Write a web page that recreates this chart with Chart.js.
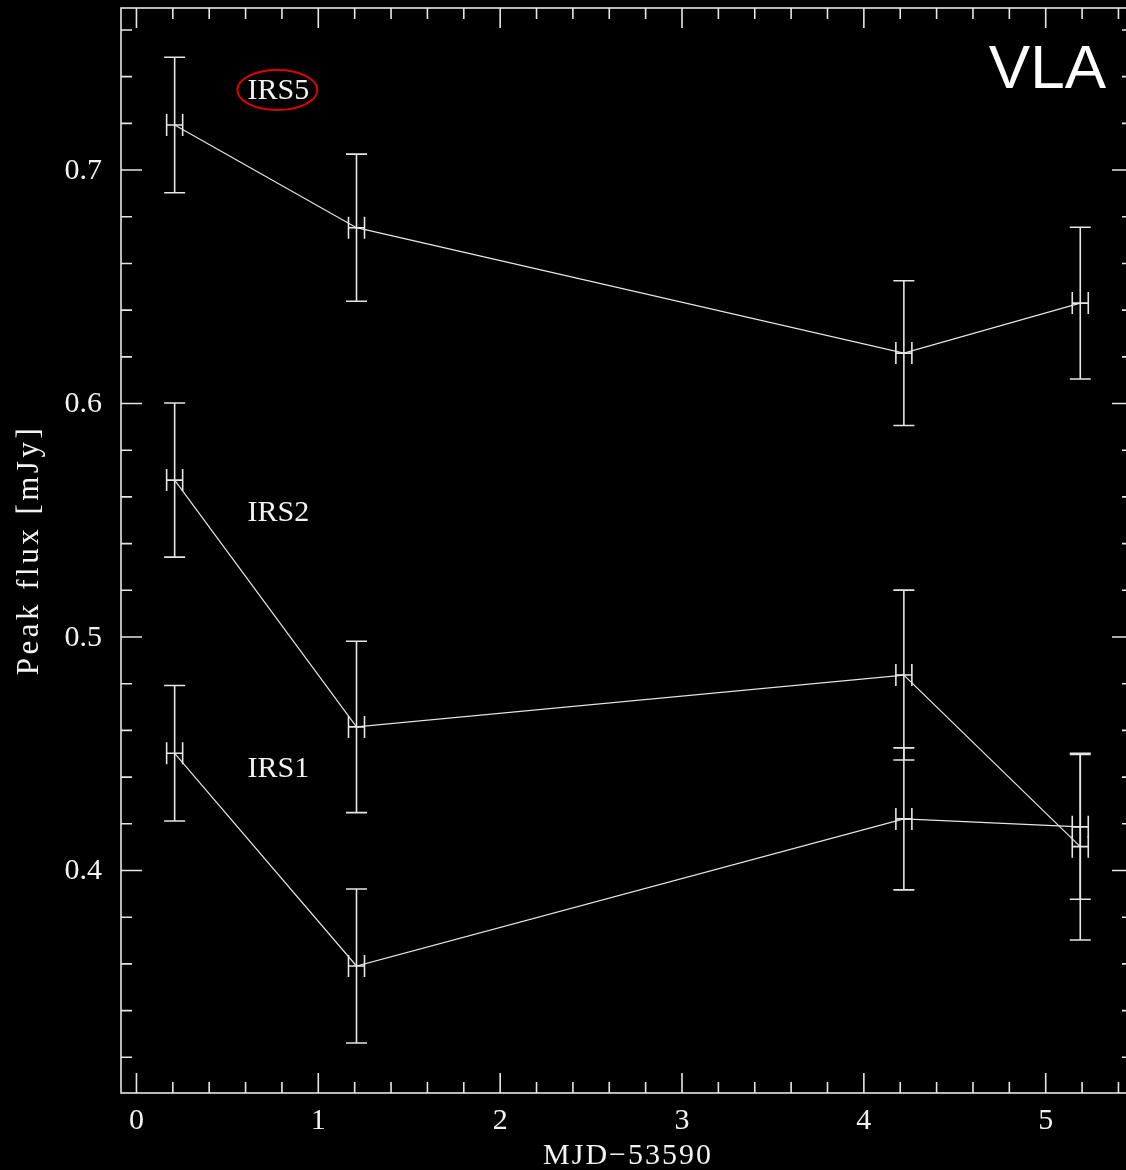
<!DOCTYPE html>
<html>
<head>
<meta charset="utf-8">
<script src="https://cdn.jsdelivr.net/npm/chart.js@4/dist/chart.umd.min.js"></script>
<style>
  html, body { margin: 0; padding: 0; background: #000; overflow: hidden; }
  #wrap { position: relative; width: 1136px; height: 1170px; }
</style>
</head>
<body>
<div id="wrap"><canvas id="c" width="1136" height="1170"></canvas></div>
<script>
// ---- data ----
const mjd    = [0.21, 1.21, 4.22, 5.19];
const mjdErr = [0.044, 0.044, 0.044, 0.044];

const irs5    = [0.7193, 0.6753, 0.6216, 0.6430];
const irs5Err = [0.0290, 0.0315, 0.0310, 0.0325];

const irs2    = [0.5672, 0.4615, 0.4837, 0.4102];
const irs2Err = [0.0330, 0.0367, 0.0364, 0.0400];

const irs1    = [0.4502, 0.3591, 0.4221, 0.4187];
const irs1Err = [0.0290, 0.0330, 0.0304, 0.0310];

const xTickLabels = ['0', '1', '2', '3', '4', '5'];
const yTickLabels = ['0.4', '0.5', '0.6', '0.7'];

const series = [
  { name: 'IRS5', y: irs5, err: irs5Err, lx: 0.78, ly: 0.7343, circled: true },
  { name: 'IRS2', y: irs2, err: irs2Err, lx: 0.78, ly: 0.5535 },
  { name: 'IRS1', y: irs1, err: irs1Err, lx: 0.78, ly: 0.4439 }
];

const FG = '#e6e6e6';
const SERIF = '"Liberation Serif", "DejaVu Serif", serif';

// ---- error bars: vertical + horizontal with caps ----
const errorBars = {
  id: 'errorBars',
  afterDatasetsDraw(chart) {
    const { ctx, scales: { x, y } } = chart;
    ctx.save();
    ctx.strokeStyle = FG;
    ctx.lineWidth = 1.6;
    series.forEach(s => {
      s.y.forEach((v, i) => {
        const px = x.getPixelForValue(mjd[i]);
        const py = y.getPixelForValue(v);
        const yt = y.getPixelForValue(v + s.err[i]);
        const yb = y.getPixelForValue(v - s.err[i]);
        const xl = x.getPixelForValue(mjd[i] - mjdErr[i]);
        const xr = x.getPixelForValue(mjd[i] + mjdErr[i]);
        ctx.beginPath();
        ctx.moveTo(px, yt); ctx.lineTo(px, yb);
        ctx.moveTo(px - 10.5, yt); ctx.lineTo(px + 10.5, yt);
        ctx.moveTo(px - 10.5, yb); ctx.lineTo(px + 10.5, yb);
        ctx.moveTo(xl, py); ctx.lineTo(xr, py);
        ctx.moveTo(xl, py - 11); ctx.lineTo(xl, py + 11);
        ctx.moveTo(xr, py - 11); ctx.lineTo(xr, py + 11);
        ctx.stroke();
      });
    });
    ctx.restore();
  }
};

// ---- PGPLOT style frame: box, inward ticks on all sides, labels ----
const frame = {
  id: 'frame',
  afterDraw(chart) {
    const { ctx, chartArea: a, scales: { x, y } } = chart;
    ctx.save();
    ctx.strokeStyle = FG;
    ctx.lineWidth = 1.6;
    ctx.strokeRect(a.left, a.top, a.right - a.left, a.bottom - a.top);

    ctx.beginPath();
    for (let k = 0; k <= 27; k++) {
      const v = k * 0.2;
      if (v > x.max) break;
      const px = x.getPixelForValue(v);
      const len = k % 5 === 0 ? 20 : 11;
      ctx.moveTo(px, a.bottom); ctx.lineTo(px, a.bottom - len);
      ctx.moveTo(px, a.top); ctx.lineTo(px, a.top + len);
    }
    for (let k = 16; k <= 38; k++) {
      const v = k * 0.02;
      if (v < y.min || v > y.max) continue;
      const py = y.getPixelForValue(v);
      const len = k % 5 === 0 ? 21 : 11;
      ctx.moveTo(a.left, py); ctx.lineTo(a.left + len, py);
      ctx.moveTo(a.right, py); ctx.lineTo(a.right - len, py);
    }
    ctx.stroke();

    // tick labels
    ctx.fillStyle = '#f2f2f2';
    ctx.font = '30px ' + SERIF;
    ctx.textAlign = 'center';
    ctx.textBaseline = 'middle';
    xTickLabels.forEach(t => ctx.fillText(t, x.getPixelForValue(+t), 1121));
    ctx.textAlign = 'right';
    yTickLabels.forEach(t => ctx.fillText(t, 102, y.getPixelForValue(+t) + 1));

    // axis titles
    ctx.letterSpacing = '2px';
    ctx.textAlign = 'center';
    ctx.fillText('MJD\u221253590', 628, 1156);
    ctx.save();
    ctx.translate(30, 550);
    ctx.rotate(-Math.PI / 2);
    ctx.font = '31px ' + SERIF;
    ctx.letterSpacing = '3.5px';
    ctx.fillText('Peak flux [mJy]', 0, 0);
    ctx.restore();
    ctx.letterSpacing = '0px';

    // source labels
    ctx.font = '30px ' + SERIF;
    series.forEach(s => {
      const lx = x.getPixelForValue(s.lx);
      const ly = y.getPixelForValue(s.ly);
      ctx.fillText(s.name, lx, ly + 1);
      if (s.circled) {
        ctx.strokeStyle = '#e00000';
        ctx.lineWidth = 2;
        ctx.beginPath();
        ctx.ellipse(lx - 1, ly, 40, 20, 0, 0, Math.PI * 2);
        ctx.stroke();
      }
    });

    // instrument tag
    ctx.fillStyle = '#ffffff';
    ctx.font = '62px "Liberation Sans", Arial, sans-serif';
    ctx.textAlign = 'right';
    ctx.textBaseline = 'alphabetic';
    ctx.fillText('VLA', 1106, 88);
    ctx.restore();
  }
};

new Chart(document.getElementById('c'), {
  type: 'line',
  data: {
    datasets: series.map(s => ({
      label: s.name,
      data: mjd.map((m, i) => ({ x: m, y: s.y[i] })),
      borderColor: FG,
      borderWidth: 1.2,
      pointRadius: 0,
      fill: false,
      tension: 0
    }))
  },
  options: {
    responsive: false,
    animation: false,
    layout: { padding: { left: 121, top: 8, right: 3, bottom: 77 } },
    plugins: { legend: { display: false }, tooltip: { enabled: false } },
    scales: {
      x: { type: 'linear', min: -0.085, max: 5.48, display: false },
      y: { type: 'linear', min: 0.3047, max: 0.7694, display: false }
    }
  },
  plugins: [errorBars, frame]
});
</script>
</body>
</html>
